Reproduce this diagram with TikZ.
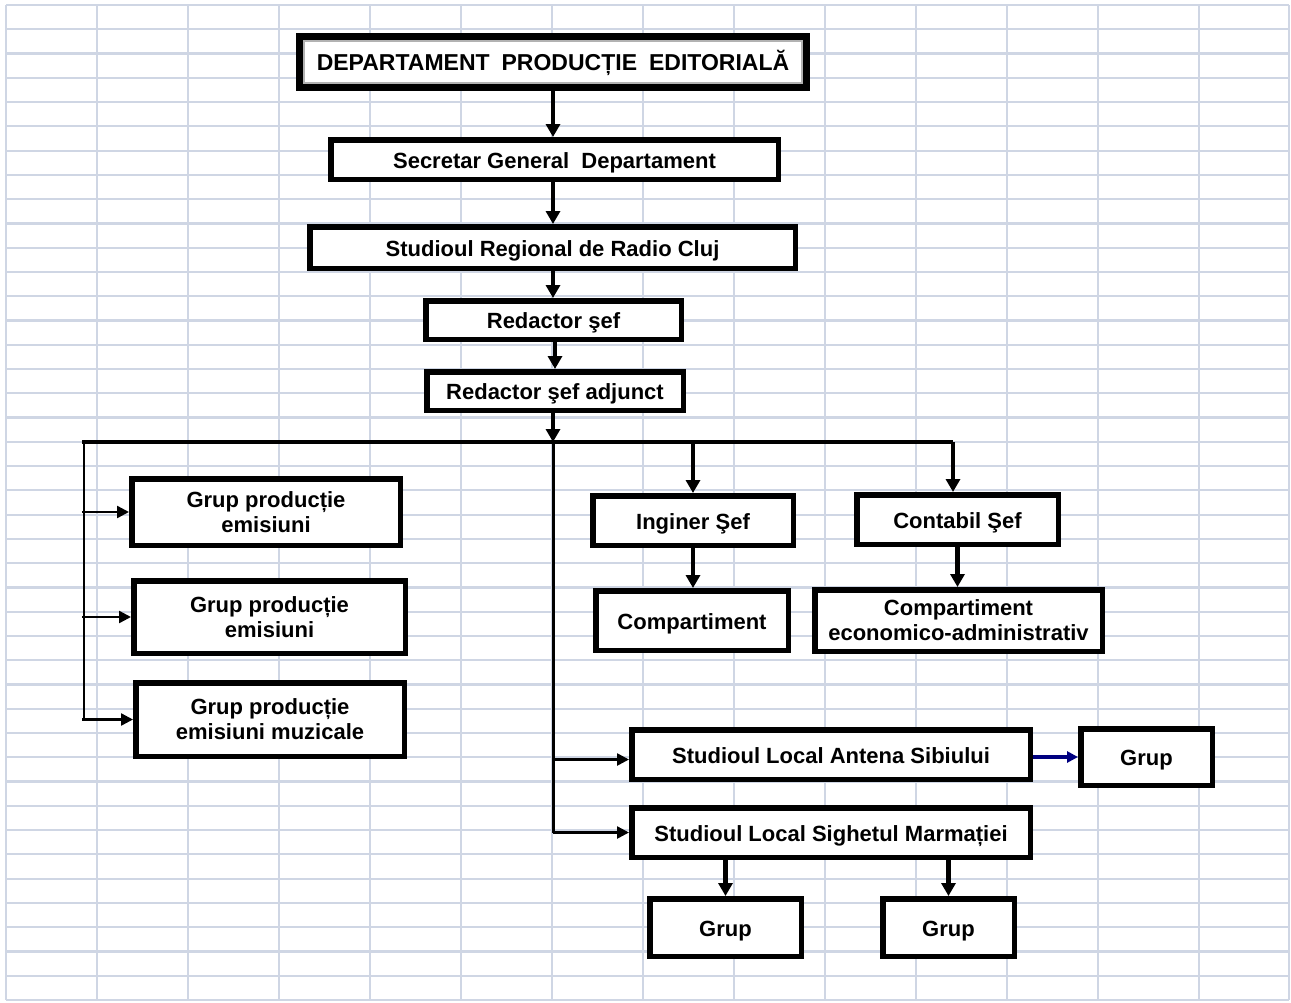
\documentclass[tikz,border=0pt]{standalone}
\usepackage{fontspec}
\setmainfont{Liberation Sans}
\usetikzlibrary{arrows.meta,calc}
\definecolor{gridc}{HTML}{CFD6E4}
\definecolor{navyc}{HTML}{000080}
\begin{document}
\begin{tikzpicture}[x=1pt,y=-1pt,
  box/.style={draw=black, fill=white, line width=5.5pt, inner sep=2pt, align=center,
    font=\fontsize{22pt}{25pt}\selectfont\bfseries},
  one/.style={text height=17pt, text depth=0pt},
  arr/.style={line width=4.5pt, -{Triangle[length=13pt,width=14pt]}},
  thinarr/.style={line width=2.5pt, -{Triangle[length=12pt,width=12pt]}},
  bluearr/.style={draw=navyc, line width=3.5pt, -{Triangle[length=11pt,width=11pt]}},
  gridline/.style={draw=gridc, line width=2.2pt}]
\useasboundingbox (0,0) rectangle (1291,1002);
\fill[white] (0,0) rectangle (1291,1002);
% background grid
\foreach \gx in {6,97,188,279,370,461,552,643,734,825,916,1007,1098,1199,1289}
  \draw[gridline] (\gx,5) -- (\gx,1000);
\foreach \k in {0,...,41}
  \draw[gridline] (6,{5+\k*24.268}) -- (1289,{5+\k*24.268});

% nodes
\node[box, one, line width=7pt, minimum width=507pt, minimum height=51pt,
  font=\fontsize{23pt}{25pt}\selectfont\bfseries] (top) at (553,62)
  {DEPARTAMENT\hspace{12pt}PRODUCȚIE\hspace{12pt}EDITORIALĂ};
\draw[gray!60, line width=1.3pt] ($(top.north west)+(8,8)$) rectangle ($(top.south east)+(-8,-8)$);
\node[box, one, minimum width=447.5pt, minimum height=39.5pt] (sec) at (554.5,159.5) {Secretar General\ \ Departament};
\node[box, one, minimum width=485.5pt, minimum height=41.5pt] (reg) at (552.5,247.5) {Studioul Regional de Radio Cluj};
\node[box, one, minimum width=255.5pt, minimum height=38.5pt] (rs) at (553.5,320) {Redactor şef};
\node[box, one, minimum width=256.5pt, minimum height=38.5pt] (rsa) at (555,391) {Redactor şef adjunct};
\node[box, minimum width=268.5pt, minimum height=66.5pt] (g1) at (266,512) {Grup producție\\emisiuni};
\node[box, minimum width=271.5pt, minimum height=72.5pt] (g2) at (269.5,617) {Grup producție\\emisiuni};
\node[box, minimum width=268.5pt, minimum height=73.5pt] (g3) at (270,719.5) {Grup producție\\emisiuni muzicale};
\node[box, one, minimum width=200.5pt, minimum height=49.5pt] (ing) at (693,520.5) {Inginer Şef};
\node[box, one, minimum width=201.5pt, minimum height=49.5pt] (cont) at (957.5,519.5) {Contabil Şef};
\node[box, one, minimum width=192.5pt, minimum height=59.5pt] (comp) at (692,620.5) {Compartiment};
\node[box, minimum width=287.5pt, minimum height=61.5pt] (compe) at (958.5,620.5) {Compartiment\\economico-administrativ};
\node[box, one, minimum width=398.5pt, minimum height=49.5pt] (ant) at (831,754.5) {Studioul Local Antena Sibiului};
\node[box, one, minimum width=131.5pt, minimum height=56.5pt] (grR) at (1146.5,757) {Grup};
\node[box, one, minimum width=398.5pt, minimum height=49.5pt] (sig) at (831,832.5) {Studioul Local Sighetul Marmației};
\node[box, one, minimum width=151.5pt, minimum height=57.5pt] (gBL) at (725.5,927.5) {Grup};
\node[box, one, minimum width=131.5pt, minimum height=57.5pt] (gBR) at (948.5,927.5) {Grup};

% helper coordinates
\coordinate (busL) at (82,442);
\coordinate (busR) at (953,442);
\coordinate (j) at (553,442);
\coordinate (lv) at (84,442);
\coordinate (antin) at ($(ant.west)+(0,5)$);

% connectors
\draw[arr] (top.south) -- (top.south |- sec.north);
\draw[arr] (top.south |- sec.south) -- (top.south |- reg.north);
\draw[arr] (top.south |- reg.south) -- (top.south |- rs.north);
\draw[arr] (rsa.north |- rs.south) -- (rsa.north);
\draw[arr] (j |- rsa.south) -- (j);
\draw[line width=3.5pt] (busL) -- (busR);
\draw[line width=3pt] (j) -- (j |- sig.west);
\draw[line width=2.5pt] (lv) -- (lv |- g3.west);
\draw[thinarr] (g1.west -| busL) -- (g1.west);
\draw[thinarr] (g2.west -| busL) -- (g2.west);
\draw[thinarr] (g3.west -| busL) -- (g3.west);
\draw[arr] (ing.north |- busL) -- (ing.north);
\draw[arr] (busR) -- (busR |- cont.north);
\draw[arr] (ing.south) -- (ing.south |- comp.north);
\draw[arr] (cont.south) -- (cont.south |- compe.north);
\draw[thinarr] (antin -| j) -- (antin);
\draw[thinarr] (sig.west -| j) -- (sig.west);
\draw[bluearr] (ant.east |- grR.west) -- (grR.west);
\draw[arr] (gBL.north |- sig.south) -- (gBL.north);
\draw[arr] (gBR.north |- sig.south) -- (gBR.north);
\end{tikzpicture}
\end{document}
